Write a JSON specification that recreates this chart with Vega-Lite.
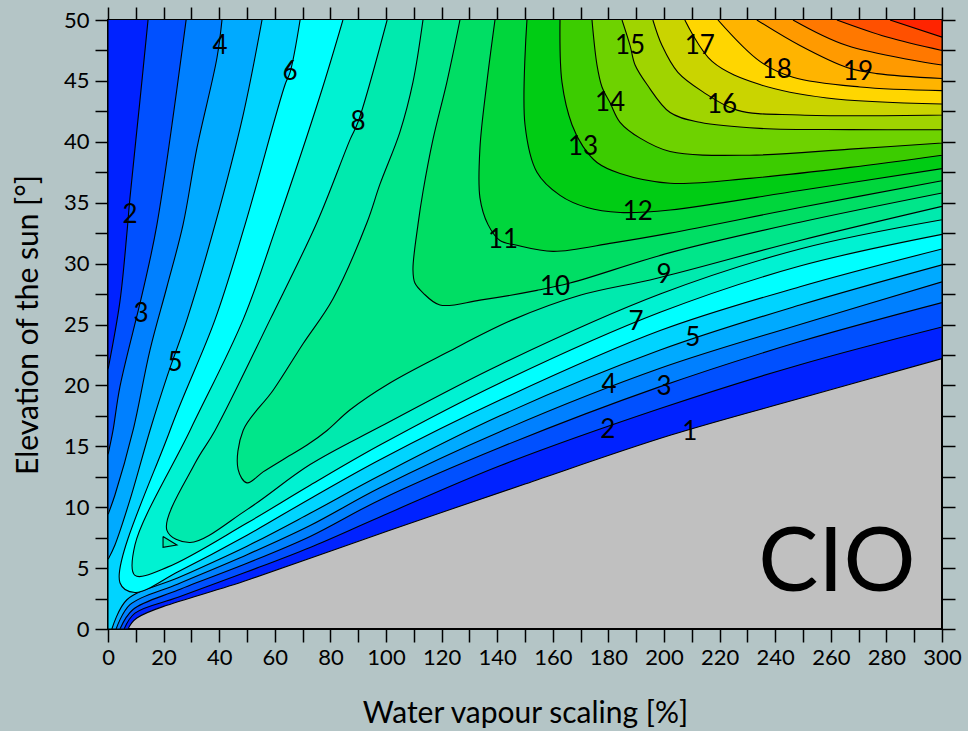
{
"$schema":"https://vega.github.io/schema/vega-lite/v6.json",
"width":834,"height":609,
"autosize":{"type":"none"},
"padding":{"left":108,"top":20,"right":26,"bottom":102},
"background":"#b4c5c6",
"config":{"view":{"stroke":"black","strokeWidth":2,"fill":"#c0c0c0"},"font":"Lato"},
"datasets":{
"polys":[
{"p":"01","lv":1,"i":0,"x":0,"y":50},{"p":"01","lv":1,"i":1,"x":0,"y":0},{"p":"01","lv":1,"i":1.5,"x":0,"y":0},{"p":"01","lv":1,"i":2,"x":7.2,"y":0},{"p":"01","lv":1,"i":2.5,"x":7.2,"y":0},{"p":"01","lv":1,"i":3,"x":10.4,"y":0.9},{"p":"01","lv":1,"i":4,"x":50,"y":4.0},{"p":"01","lv":1,"i":5,"x":101.4,"y":8.1},{"p":"01","lv":1,"i":6,"x":150,"y":11.9},{"p":"01","lv":1,"i":7,"x":202.2,"y":15.9},{"p":"01","lv":1,"i":8,"x":250,"y":19.0},{"p":"01","lv":1,"i":9,"x":300,"y":22.2},{"p":"01","lv":1,"i":9.5,"x":300,"y":22.2},{"p":"01","lv":1,"i":10,"x":300,"y":50},
{"p":"02","lv":2,"i":0,"x":14.4,"y":50},{"p":"02","lv":2,"i":1,"x":11.5,"y":43.4},{"p":"02","lv":2,"i":2,"x":7.9,"y":35.4},{"p":"02","lv":2,"i":3,"x":6.8,"y":32.5},{"p":"02","lv":2,"i":4,"x":4.3,"y":26.9},{"p":"02","lv":2,"i":5,"x":0,"y":21.3},{"p":"02","lv":2,"i":5.5,"x":0,"y":21.3},{"p":"02","lv":2,"i":6,"x":0,"y":0},{"p":"02","lv":2,"i":6.5,"x":0,"y":0},{"p":"02","lv":2,"i":7,"x":5.8,"y":0},{"p":"02","lv":2,"i":7.5,"x":5.8,"y":0},{"p":"02","lv":2,"i":8,"x":9.7,"y":1.3},{"p":"02","lv":2,"i":9,"x":25.2,"y":2.6},{"p":"02","lv":2,"i":10,"x":50,"y":4.7},{"p":"02","lv":2,"i":11,"x":72.7,"y":6.7},{"p":"02","lv":2,"i":12,"x":97.8,"y":9.2},{"p":"02","lv":2,"i":13,"x":141,"y":13.4},{"p":"02","lv":2,"i":14,"x":198.6,"y":18.1},{"p":"02","lv":2,"i":15,"x":248.9,"y":21.7},{"p":"02","lv":2,"i":16,"x":300,"y":24.8},{"p":"02","lv":2,"i":16.5,"x":300,"y":24.8},{"p":"02","lv":2,"i":17,"x":300,"y":50},
{"p":"03","lv":3,"i":0,"x":28.1,"y":50},{"p":"03","lv":3,"i":1,"x":17.6,"y":33.2},{"p":"03","lv":3,"i":2,"x":12.6,"y":27.8},{"p":"03","lv":3,"i":3,"x":4.3,"y":19.9},{"p":"03","lv":3,"i":4,"x":1.8,"y":16.3},{"p":"03","lv":3,"i":5,"x":0,"y":14.3},{"p":"03","lv":3,"i":5.5,"x":0,"y":14.3},{"p":"03","lv":3,"i":6,"x":0,"y":0},{"p":"03","lv":3,"i":6.5,"x":0,"y":0},{"p":"03","lv":3,"i":7,"x":4.3,"y":0},{"p":"03","lv":3,"i":7.5,"x":4.3,"y":0},{"p":"03","lv":3,"i":8,"x":9.0,"y":1.6},{"p":"03","lv":3,"i":9,"x":25.2,"y":3.2},{"p":"03","lv":3,"i":10,"x":50,"y":5.4},{"p":"03","lv":3,"i":11,"x":72.7,"y":7.6},{"p":"03","lv":3,"i":12,"x":97.8,"y":10.6},{"p":"03","lv":3,"i":13,"x":141,"y":14.9},{"p":"03","lv":3,"i":14,"x":198.6,"y":19.9},{"p":"03","lv":3,"i":15,"x":248.9,"y":23.6},{"p":"03","lv":3,"i":16,"x":300,"y":26.8},{"p":"03","lv":3,"i":16.5,"x":300,"y":26.8},{"p":"03","lv":3,"i":17,"x":300,"y":50},
{"p":"04","lv":4,"i":0,"x":41.0,"y":50},{"p":"04","lv":4,"i":1,"x":39.2,"y":46.9},{"p":"04","lv":4,"i":2,"x":32.0,"y":39.5},{"p":"04","lv":4,"i":3,"x":27.0,"y":33.2},{"p":"04","lv":4,"i":4,"x":21.2,"y":28.1},{"p":"04","lv":4,"i":5,"x":15.1,"y":22.9},{"p":"04","lv":4,"i":6,"x":9.0,"y":16.3},{"p":"04","lv":4,"i":7,"x":2.5,"y":11.0},{"p":"04","lv":4,"i":8,"x":0,"y":9.4},{"p":"04","lv":4,"i":8.5,"x":0,"y":9.4},{"p":"04","lv":4,"i":9,"x":0,"y":0},{"p":"04","lv":4,"i":9.5,"x":0,"y":0},{"p":"04","lv":4,"i":10,"x":2.9,"y":0},{"p":"04","lv":4,"i":10.5,"x":2.9,"y":0},{"p":"04","lv":4,"i":11,"x":7.9,"y":2.0},{"p":"04","lv":4,"i":12,"x":25.2,"y":3.7},{"p":"04","lv":4,"i":13,"x":50,"y":6.1},{"p":"04","lv":4,"i":14,"x":72.7,"y":8.5},{"p":"04","lv":4,"i":15,"x":97.8,"y":11.6},{"p":"04","lv":4,"i":16,"x":141,"y":16.2},{"p":"04","lv":4,"i":17,"x":198.6,"y":21.4},{"p":"04","lv":4,"i":18,"x":248.9,"y":25.0},{"p":"04","lv":4,"i":19,"x":300,"y":28.5},{"p":"04","lv":4,"i":19.5,"x":300,"y":28.5},{"p":"04","lv":4,"i":20,"x":300,"y":50},
{"p":"05","lv":5,"i":0,"x":55.4,"y":50},{"p":"05","lv":5,"i":1,"x":48.6,"y":42.2},{"p":"05","lv":5,"i":2,"x":38.5,"y":33.2},{"p":"05","lv":5,"i":3,"x":28.4,"y":25.4},{"p":"05","lv":5,"i":4,"x":21.2,"y":20.7},{"p":"05","lv":5,"i":5,"x":15.1,"y":16.3},{"p":"05","lv":5,"i":6,"x":7.9,"y":10.6},{"p":"05","lv":5,"i":7,"x":2.5,"y":6.9},{"p":"05","lv":5,"i":8,"x":0,"y":5.7},{"p":"05","lv":5,"i":8.5,"x":0,"y":5.7},{"p":"05","lv":5,"i":9,"x":0,"y":0},{"p":"05","lv":5,"i":9.5,"x":0,"y":0},{"p":"05","lv":5,"i":10,"x":1.4,"y":0},{"p":"05","lv":5,"i":10.5,"x":1.4,"y":0},{"p":"05","lv":5,"i":11,"x":6.8,"y":2.4},{"p":"05","lv":5,"i":12,"x":25.2,"y":4.2},{"p":"05","lv":5,"i":13,"x":50,"y":6.8},{"p":"05","lv":5,"i":14,"x":72.7,"y":9.5},{"p":"05","lv":5,"i":15,"x":97.8,"y":12.6},{"p":"05","lv":5,"i":16,"x":141,"y":17.5},{"p":"05","lv":5,"i":17,"x":198.6,"y":22.9},{"p":"05","lv":5,"i":18,"x":248.9,"y":26.6},{"p":"05","lv":5,"i":19,"x":300,"y":29.9},{"p":"05","lv":5,"i":19.5,"x":300,"y":29.9},{"p":"05","lv":5,"i":20,"x":300,"y":50},
{"p":"06","lv":6,"i":0,"x":69.1,"y":50},{"p":"06","lv":6,"i":1,"x":65.5,"y":45.7},{"p":"06","lv":6,"i":2,"x":63.7,"y":44.7},{"p":"06","lv":6,"i":3,"x":49.3,"y":33.2},{"p":"06","lv":6,"i":4,"x":38.5,"y":25.4},{"p":"06","lv":6,"i":5,"x":22.3,"y":16.3},{"p":"06","lv":6,"i":6,"x":4.3,"y":3.8},{"p":"06","lv":6,"i":7,"x":9.7,"y":3.0},{"p":"06","lv":6,"i":8,"x":25.2,"y":4.7},{"p":"06","lv":6,"i":9,"x":50,"y":7.7},{"p":"06","lv":6,"i":10,"x":72.7,"y":10.7},{"p":"06","lv":6,"i":11,"x":97.8,"y":13.9},{"p":"06","lv":6,"i":12,"x":141,"y":18.8},{"p":"06","lv":6,"i":13,"x":198.6,"y":24.5},{"p":"06","lv":6,"i":14,"x":248.9,"y":28.1},{"p":"06","lv":6,"i":15,"x":300,"y":31.2},{"p":"06","lv":6,"i":15.5,"x":300,"y":31.2},{"p":"06","lv":6,"i":16,"x":300,"y":50},
{"p":"07","lv":7,"i":0,"x":84.5,"y":50},{"p":"07","lv":7,"i":1,"x":76.3,"y":43.8},{"p":"07","lv":7,"i":2,"x":60.8,"y":33.2},{"p":"07","lv":7,"i":3,"x":48.6,"y":25.4},{"p":"07","lv":7,"i":4,"x":29.5,"y":16.3},{"p":"07","lv":7,"i":5,"x":9.7,"y":6.9},{"p":"07","lv":7,"i":6,"x":9.7,"y":4.4},{"p":"07","lv":7,"i":7,"x":21.6,"y":5.1},{"p":"07","lv":7,"i":8,"x":50,"y":8.7},{"p":"07","lv":7,"i":9,"x":72.7,"y":11.8},{"p":"07","lv":7,"i":10,"x":97.8,"y":15.1},{"p":"07","lv":7,"i":11,"x":141,"y":20.2},{"p":"07","lv":7,"i":12,"x":198.6,"y":26.0},{"p":"07","lv":7,"i":13,"x":248.9,"y":29.8},{"p":"07","lv":7,"i":14,"x":300,"y":32.4},{"p":"07","lv":7,"i":14.5,"x":300,"y":32.4},{"p":"07","lv":7,"i":15,"x":300,"y":50},
{"p":"08","lv":8,"i":0,"x":100.4,"y":50},{"p":"08","lv":8,"i":1,"x":89.9,"y":41.6},{"p":"08","lv":8,"i":2,"x":87.1,"y":40.2},{"p":"08","lv":8,"i":3,"x":75.2,"y":33.4},{"p":"08","lv":8,"i":4,"x":58.3,"y":25.4},{"p":"08","lv":8,"i":5,"x":38.5,"y":16.3},{"p":"08","lv":8,"i":6,"x":31.3,"y":13.6},{"p":"08","lv":8,"i":7,"x":21.2,"y":8.1},{"p":"08","lv":8,"i":8,"x":29.5,"y":7.1},{"p":"08","lv":8,"i":9,"x":50,"y":9.8},{"p":"08","lv":8,"i":10,"x":72.7,"y":13.5},{"p":"08","lv":8,"i":11,"x":97.8,"y":16.6},{"p":"08","lv":8,"i":12,"x":141,"y":21.7},{"p":"08","lv":8,"i":13,"x":198.6,"y":27.5},{"p":"08","lv":8,"i":14,"x":248.9,"y":31.2},{"p":"08","lv":8,"i":15,"x":300,"y":33.6},{"p":"08","lv":8,"i":15.5,"x":300,"y":33.6},{"p":"08","lv":8,"i":16,"x":300,"y":50},
{"p":"08b","lv":8,"i":0,"x":19.8,"y":7.6},{"p":"08b","lv":8,"i":0.5,"x":19.8,"y":7.6},{"p":"08b","lv":8,"i":1,"x":24.8,"y":6.9},{"p":"08b","lv":8,"i":1.5,"x":24.8,"y":6.9},{"p":"08b","lv":8,"i":2,"x":19.8,"y":6.7},{"p":"08b","lv":8,"i":2.5,"x":19.8,"y":6.7},{"p":"08b","lv":8,"i":3,"x":19.8,"y":7.6},
{"p":"09","lv":9,"i":0,"x":113.3,"y":50},{"p":"09","lv":9,"i":1,"x":109.7,"y":44.9},{"p":"09","lv":9,"i":2,"x":105.0,"y":40.8},{"p":"09","lv":9,"i":3,"x":97.8,"y":36.5},{"p":"09","lv":9,"i":4,"x":93.2,"y":33.4},{"p":"09","lv":9,"i":5,"x":80.9,"y":27.1},{"p":"09","lv":9,"i":6,"x":70.1,"y":23.4},{"p":"09","lv":9,"i":7,"x":59.4,"y":19.6},{"p":"09","lv":9,"i":8,"x":48.6,"y":16.3},{"p":"09","lv":9,"i":9,"x":46.8,"y":13.1},{"p":"09","lv":9,"i":10,"x":50,"y":12.0},{"p":"09","lv":9,"i":11,"x":55.8,"y":12.9},{"p":"09","lv":9,"i":12,"x":62.9,"y":13.9},{"p":"09","lv":9,"i":13,"x":71.6,"y":15.1},{"p":"09","lv":9,"i":14,"x":78.8,"y":16.3},{"p":"09","lv":9,"i":15,"x":87.1,"y":18.0},{"p":"09","lv":9,"i":16,"x":101.4,"y":20.2},{"p":"09","lv":9,"i":17,"x":121.9,"y":22.7},{"p":"09","lv":9,"i":18,"x":145.7,"y":25.4},{"p":"09","lv":9,"i":19,"x":169.8,"y":27.4},{"p":"09","lv":9,"i":20,"x":197.5,"y":28.8},{"p":"09","lv":9,"i":21,"x":248.9,"y":31.9},{"p":"09","lv":9,"i":22,"x":300,"y":34.7},{"p":"09","lv":9,"i":22.5,"x":300,"y":34.7},{"p":"09","lv":9,"i":23,"x":300,"y":50},
{"p":"10","lv":10,"i":0,"x":126.6,"y":50},{"p":"10","lv":10,"i":1,"x":121.9,"y":44.9},{"p":"10","lv":10,"i":2,"x":116.9,"y":40.2},{"p":"10","lv":10,"i":3,"x":113.3,"y":35.9},{"p":"10","lv":10,"i":4,"x":111.5,"y":33.2},{"p":"10","lv":10,"i":5,"x":109.7,"y":29.5},{"p":"10","lv":10,"i":6,"x":110.4,"y":28.4},{"p":"10","lv":10,"i":7,"x":113.3,"y":27.6},{"p":"10","lv":10,"i":8,"x":119.4,"y":26.6},{"p":"10","lv":10,"i":9,"x":133.8,"y":27.0},{"p":"10","lv":10,"i":10,"x":154.3,"y":27.8},{"p":"10","lv":10,"i":11,"x":166.2,"y":28.4},{"p":"10","lv":10,"i":12,"x":202.2,"y":30.9},{"p":"10","lv":10,"i":13,"x":248.9,"y":33.4},{"p":"10","lv":10,"i":14,"x":300,"y":35.8},{"p":"10","lv":10,"i":14.5,"x":300,"y":35.8},{"p":"10","lv":10,"i":15,"x":300,"y":50},
{"p":"11","lv":11,"i":0,"x":139.2,"y":50},{"p":"11","lv":11,"i":1,"x":136.3,"y":44.9},{"p":"11","lv":11,"i":2,"x":133.8,"y":39.5},{"p":"11","lv":11,"i":3,"x":133.8,"y":35.4},{"p":"11","lv":11,"i":4,"x":136.7,"y":33.2},{"p":"11","lv":11,"i":5,"x":141,"y":31.9},{"p":"11","lv":11,"i":6,"x":147.1,"y":31.5},{"p":"11","lv":11,"i":7,"x":160.1,"y":31.0},{"p":"11","lv":11,"i":8,"x":181.7,"y":31.7},{"p":"11","lv":11,"i":9,"x":202.2,"y":32.5},{"p":"11","lv":11,"i":10,"x":248.9,"y":34.6},{"p":"11","lv":11,"i":11,"x":300,"y":36.8},{"p":"11","lv":11,"i":11.5,"x":300,"y":36.8},{"p":"11","lv":11,"i":12,"x":300,"y":50},
{"p":"12","lv":12,"i":0,"x":150.7,"y":50},{"p":"12","lv":12,"i":1,"x":150.0,"y":41.4},{"p":"12","lv":12,"i":2,"x":154.3,"y":37.5},{"p":"12","lv":12,"i":3,"x":162.6,"y":35.6},{"p":"12","lv":12,"i":4,"x":172.3,"y":34.6},{"p":"12","lv":12,"i":5,"x":184.2,"y":34.2},{"p":"12","lv":12,"i":6,"x":202.2,"y":34.4},{"p":"12","lv":12,"i":7,"x":248.9,"y":36.0},{"p":"12","lv":12,"i":8,"x":300,"y":37.8},{"p":"12","lv":12,"i":8.5,"x":300,"y":37.8},{"p":"12","lv":12,"i":9,"x":300,"y":50},
{"p":"13","lv":13,"i":0,"x":162.6,"y":50},{"p":"13","lv":13,"i":1,"x":163.3,"y":44.9},{"p":"13","lv":13,"i":2,"x":166.9,"y":41.4},{"p":"13","lv":13,"i":3,"x":170.9,"y":39.6},{"p":"13","lv":13,"i":4,"x":175.9,"y":38.3},{"p":"13","lv":13,"i":5,"x":184.2,"y":37.4},{"p":"13","lv":13,"i":6,"x":202.2,"y":36.6},{"p":"13","lv":13,"i":7,"x":230.9,"y":37.0},{"p":"13","lv":13,"i":8,"x":266.9,"y":37.9},{"p":"13","lv":13,"i":9,"x":300,"y":38.9},{"p":"13","lv":13,"i":9.5,"x":300,"y":38.9},{"p":"13","lv":13,"i":10,"x":300,"y":50},
{"p":"14","lv":14,"i":0,"x":174.1,"y":50},{"p":"14","lv":14,"i":1,"x":175.9,"y":46.3},{"p":"14","lv":14,"i":2,"x":177.7,"y":44.5},{"p":"14","lv":14,"i":3,"x":180.6,"y":43.2},{"p":"14","lv":14,"i":4,"x":184.2,"y":41.6},{"p":"14","lv":14,"i":5,"x":191.4,"y":40.3},{"p":"14","lv":14,"i":6,"x":202.2,"y":39.2},{"p":"14","lv":14,"i":7,"x":230.9,"y":38.9},{"p":"14","lv":14,"i":8,"x":266.9,"y":39.4},{"p":"14","lv":14,"i":9,"x":300,"y":39.9},{"p":"14","lv":14,"i":9.5,"x":300,"y":39.9},{"p":"14","lv":14,"i":10,"x":300,"y":50},
{"p":"15","lv":15,"i":0,"x":184.9,"y":50},{"p":"15","lv":15,"i":1,"x":187.8,"y":47.9},{"p":"15","lv":15,"i":2,"x":189.6,"y":46.3},{"p":"15","lv":15,"i":3,"x":193.9,"y":44.7},{"p":"15","lv":15,"i":4,"x":202.2,"y":42.4},{"p":"15","lv":15,"i":5,"x":212.9,"y":41.6},{"p":"15","lv":15,"i":6,"x":234.5,"y":41.1},{"p":"15","lv":15,"i":7,"x":266.9,"y":41.0},{"p":"15","lv":15,"i":8,"x":300,"y":41.0},{"p":"15","lv":15,"i":8.5,"x":300,"y":41.0},{"p":"15","lv":15,"i":9,"x":300,"y":50},
{"p":"16","lv":16,"i":0,"x":196.0,"y":50},{"p":"16","lv":16,"i":1,"x":199.3,"y":47.9},{"p":"16","lv":16,"i":2,"x":205.0,"y":45.7},{"p":"16","lv":16,"i":3,"x":214.0,"y":44.1},{"p":"16","lv":16,"i":4,"x":226.3,"y":42.6},{"p":"16","lv":16,"i":5,"x":248.9,"y":42.2},{"p":"16","lv":16,"i":6,"x":300,"y":42.2},{"p":"16","lv":16,"i":6.5,"x":300,"y":42.2},{"p":"16","lv":16,"i":7,"x":300,"y":50},
{"p":"17","lv":17,"i":0,"x":207.5,"y":50},{"p":"17","lv":17,"i":1,"x":217.3,"y":46.6},{"p":"17","lv":17,"i":2,"x":234.5,"y":44.7},{"p":"17","lv":17,"i":3,"x":258.6,"y":43.6},{"p":"17","lv":17,"i":4,"x":300,"y":43.1},{"p":"17","lv":17,"i":4.5,"x":300,"y":43.1},{"p":"17","lv":17,"i":5,"x":300,"y":50},
{"p":"18","lv":18,"i":0,"x":219.4,"y":50},{"p":"18","lv":18,"i":1,"x":234.5,"y":46.6},{"p":"18","lv":18,"i":2,"x":246.4,"y":45.3},{"p":"18","lv":18,"i":3,"x":270.5,"y":44.5},{"p":"18","lv":18,"i":4,"x":300,"y":44.2},{"p":"18","lv":18,"i":4.5,"x":300,"y":44.2},{"p":"18","lv":18,"i":5,"x":300,"y":50},
{"p":"19","lv":19,"i":0,"x":233.4,"y":50},{"p":"19","lv":19,"i":1,"x":248.9,"y":47.9},{"p":"19","lv":19,"i":2,"x":265.8,"y":46.1},{"p":"19","lv":19,"i":3,"x":276.6,"y":45.6},{"p":"19","lv":19,"i":4,"x":300,"y":45.2},{"p":"19","lv":19,"i":4.5,"x":300,"y":45.2},{"p":"19","lv":19,"i":5,"x":300,"y":50},
{"p":"20","lv":20,"i":0,"x":246.4,"y":50},{"p":"20","lv":20,"i":1,"x":265.8,"y":47.9},{"p":"20","lv":20,"i":2,"x":300,"y":46.3},{"p":"20","lv":20,"i":2.5,"x":300,"y":46.3},{"p":"20","lv":20,"i":3,"x":300,"y":50},
{"p":"21","lv":21,"i":0,"x":262.2,"y":50},{"p":"21","lv":21,"i":1,"x":280.2,"y":48.6},{"p":"21","lv":21,"i":2,"x":300,"y":47.5},{"p":"21","lv":21,"i":2.5,"x":300,"y":47.5},{"p":"21","lv":21,"i":3,"x":300,"y":50},
{"p":"22","lv":22,"i":0,"x":281.3,"y":50},{"p":"22","lv":22,"i":1,"x":300,"y":48.6},{"p":"22","lv":22,"i":1.5,"x":300,"y":48.6},{"p":"22","lv":22,"i":2,"x":300,"y":50}
],
"labels":[
{"t":"4","x":40.3,"y":47.9},{"t":"6","x":65.5,"y":45.7},{"t":"8","x":89.9,"y":41.6},{"t":"2","x":7.9,"y":34.0},{"t":"3","x":11.9,"y":25.9},{"t":"5","x":24.1,"y":21.8},{"t":"15","x":187.8,"y":47.9},{"t":"17","x":212.9,"y":47.9},{"t":"18","x":240.6,"y":45.9},{"t":"19","x":269.8,"y":45.7},{"t":"14","x":180.6,"y":43.2},{"t":"16","x":220.9,"y":43.0},{"t":"13","x":170.9,"y":39.6},{"t":"12","x":190.6,"y":34.2},{"t":"11","x":142.1,"y":31.9},{"t":"10","x":160.8,"y":28.1},{"t":"9","x":200.0,"y":29.1},{"t":"7","x":189.9,"y":25.2},{"t":"5","x":210.4,"y":23.9},{"t":"4","x":180.2,"y":20.0},{"t":"3","x":200.0,"y":19.9},{"t":"2","x":179.8,"y":16.3},{"t":"1","x":209.3,"y":16.2}
],
"brand":[{"t":"CIO","x":262.2,"y":5.3}]
},
"resolve":{"axis":{"x":"independent","y":"independent"}},
"layer":[
{"data":{"name":"polys"},
 "mark":{"type":"line","stroke":"black","strokeWidth":1.1,"clip":true,"interpolate":"catmull-rom"},
 "encoding":{
  "x":{"field":"x","type":"quantitative","scale":{"domain":[0,300],"nice":false,"zero":false},
   "axis":{"orient":"bottom","values":[0,10,20,30,40,50,60,70,80,90,100,110,120,130,140,150,160,170,180,190,200,210,220,230,240,250,260,270,280,290,300],
    "labelExpr":"datum.value % 20 === 0 ? datum.label : ''","labelOverlap":false,"labelFlush":false,
    "domain":false,"grid":false,"tickSize":13,"tickColor":"black","tickWidth":1.5,
    "labelFont":"Lato","labelFontSize":22,"labelColor":"black","labelPadding":5,
    "title":"Water vapour scaling [%]","titleFont":"Lato","titleFontSize":30,"titleFontWeight":"normal","titleColor":"black","titlePadding":30,
    "encode":{"ticks":{"update":{"y2":{"signal":"datum.value % 20 === 0 ? 13 : 7"}}}}}},
  "y":{"field":"y","type":"quantitative","scale":{"domain":[0,50],"nice":false,"zero":false},
   "axis":{"orient":"left","values":[0,2.5,5,7.5,10,12.5,15,17.5,20,22.5,25,27.5,30,32.5,35,37.5,40,42.5,45,47.5,50],
    "labelExpr":"datum.value % 5 === 0 ? datum.label : ''","labelOverlap":false,"labelFlush":false,
    "domain":false,"grid":false,"tickSize":13,"tickColor":"black","tickWidth":1.5,
    "labelFont":"Lato","labelFontSize":22,"labelColor":"black","labelPadding":6,
    "title":"Elevation of the sun [°]","titleFont":"Lato","titleFontSize":30,"titleFontWeight":"normal","titleColor":"black","titlePadding":20,
    "encode":{"ticks":{"update":{"x2":{"signal":"datum.value % 5 === 0 ? -13 : -7"}}}}}},
  "fill":{"field":"lv","type":"ordinal","legend":null,
   "scale":{"domain":[1,2,3,4,5,6,7,8,9,10,11,12,13,14,15,16,17,18,19,20,21,22],
    "range":["#0022ff","#0050ff","#0080ff","#00aaff","#00d4ff","#00ffff","#00f2d2","#00eaae","#00e68a","#00de64","#00d63c","#00cc14","#3ccc00","#6ed200","#a0d400","#cad400","#ffd600","#ffb400","#ff9a00","#ff7800","#ff5000","#ff2400"]}},
  "detail":{"field":"p","type":"nominal"},
  "order":{"field":"i","type":"quantitative"}
 }},
{"data":{"name":"labels"},
 "mark":{"type":"text","fontSize":26,"font":"Lato","color":"black","align":"center","baseline":"middle"},
 "encoding":{
  "x":{"field":"x","type":"quantitative",
   "axis":{"orient":"top","values":[0,10,20,30,40,50,60,70,80,90,100,110,120,130,140,150,160,170,180,190,200,210,220,230,240,250,260,270,280,290,300],
    "labels":false,"title":null,"domain":false,"grid":false,"tickSize":13,"tickColor":"black","tickWidth":1.5,
    "encode":{"ticks":{"update":{"y2":{"signal":"datum.value % 20 === 0 ? -13 : -7"}}}}}},
  "y":{"field":"y","type":"quantitative",
   "axis":{"orient":"right","values":[0,2.5,5,7.5,10,12.5,15,17.5,20,22.5,25,27.5,30,32.5,35,37.5,40,42.5,45,47.5,50],
    "labels":false,"title":null,"domain":false,"grid":false,"tickSize":13,"tickColor":"black","tickWidth":1.5,
    "encode":{"ticks":{"update":{"x2":{"signal":"datum.value % 5 === 0 ? 13 : 7"}}}}}},
  "text":{"field":"t","type":"nominal"}
 }},
{"data":{"name":"brand"},
 "mark":{"type":"text","fontSize":90,"font":"Lato","color":"black","align":"center","baseline":"middle"},
 "encoding":{
  "x":{"field":"x","type":"quantitative","axis":null},
  "y":{"field":"y","type":"quantitative","axis":null},
  "text":{"field":"t","type":"nominal"}
 }}
]
}
